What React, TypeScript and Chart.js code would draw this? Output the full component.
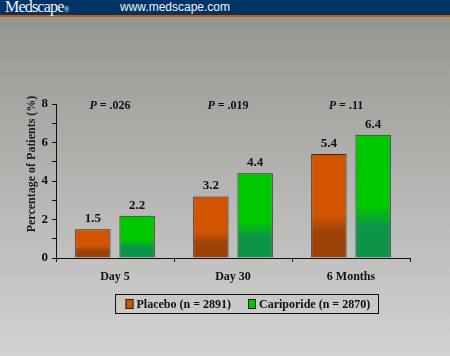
import React, { useEffect, useRef } from "react";
import { Chart, registerables } from "chart.js";

Chart.register(...registerables);

const categories = ["Day 5", "Day 30", "6 Months"];
const placebo = [1.5, 3.2, 5.4];
const cariporide = [2.2, 4.4, 6.4];
const pValues = [".026", ".019", ".11"];
const seriesLabels = ["Placebo (n = 2891)", "Cariporide (n = 2870)"];
const yTicks = [0, 2, 4, 6, 8];
const yTitle = "Percentage of Patients (%)";

const SERIF = '"Liberation Serif", "Times New Roman", serif';
const ORANGE = "#d35400";
const ORANGE_DARK = "#9c4208";
const GREEN = "#00c800";
const GREEN_DARK = "#0c9448";

function barGradient(ctx: any, base: string, dark: string) {
  const chart = ctx.chart;
  const ys = chart.scales && chart.scales.y;
  if (!ys || ctx.raw == null) return base;
  const top = ys.getPixelForValue(ctx.raw);
  const bottom = ys.getPixelForValue(0);
  if (!isFinite(top) || !isFinite(bottom) || bottom - top < 1) return base;
  const g = chart.ctx.createLinearGradient(0, top, 0, bottom);
  g.addColorStop(0, base);
  g.addColorStop(0.58, base);
  g.addColorStop(0.75, dark);
  g.addColorStop(1, dark);
  return g;
}

const annotatePlugin = {
  id: "annotate",
  afterDatasetsDraw(chart: any) {
    const ctx = chart.ctx;
    const xs = chart.scales.x;
    ctx.save();
    // value labels
    ctx.fillStyle = "#111";
    ctx.font = `bold 13px ${SERIF}`;
    ctx.textAlign = "center";
    ctx.textBaseline = "bottom";
    chart.data.datasets.forEach((ds: any, di: number) => {
      const meta = chart.getDatasetMeta(di);
      meta.data.forEach((bar: any, i: number) => {
        ctx.fillText(Number(ds.data[i]).toFixed(1), bar.x, bar.y - 4);
      });
    });
    // P values
    ctx.textBaseline = "middle";
    ctx.textAlign = "left";
    pValues.forEach((p, i) => {
      const cx = xs.getPixelForValue(i) - 5;
      const y = chart.chartArea.top + 1.5;
      ctx.font = `italic bold 12px ${SERIF}`;
      const wP = ctx.measureText("P").width;
      ctx.font = `bold 12px ${SERIF}`;
      const rest = " = " + p;
      const wR = ctx.measureText(rest).width;
      const x = cx - (wP + wR) / 2;
      ctx.font = `italic bold 12px ${SERIF}`;
      ctx.fillText("P", x, y);
      ctx.font = `bold 12px ${SERIF}`;
      ctx.fillText(rest, x + wP, y);
    });
    // y title
    ctx.save();
    ctx.translate(32, 147);
    ctx.rotate(-Math.PI / 2);
    ctx.textAlign = "center";
    ctx.textBaseline = "middle";
    ctx.font = `bold 12px ${SERIF}`;
    ctx.fillStyle = "#1a1a1a";
    ctx.fillText(yTitle, 0, 0);
    ctx.restore();
    // legend
    ctx.font = `bold 12px ${SERIF}`;
    const items = chart.data.datasets.map((ds: any) => ({
      text: ds.label,
      color: ds.legendColor,
      w: ctx.measureText(ds.label).width,
    }));
    const markerW = 8, markerGap = 3, itemGap = 17, padL = 10, padR = 8;
    let total = padL + padR;
    items.forEach((it: any, i: number) => {
      total += markerW + markerGap + it.w + (i > 0 ? itemGap : 0);
    });
    const centerX = 246.5;
    const boxTop = 277;
    const boxH = 19;
    const left = Math.round(centerX - total / 2) + 0.5;
    ctx.strokeStyle = "#111";
    ctx.lineWidth = 1;
    ctx.strokeRect(left, boxTop + 0.5, Math.round(total), boxH);
    let x = left + padL;
    const midY = boxTop + boxH / 2 + 0.5;
    items.forEach((it: any, i: number) => {
      if (i > 0) x += itemGap;
      ctx.fillStyle = it.color;
      ctx.fillRect(x, midY - 5, markerW, 10);
      ctx.strokeStyle = "#222";
      ctx.strokeRect(x + 0.5, midY - 4.5, markerW - 1, 9);
      x += markerW + markerGap;
      ctx.fillStyle = "#111";
      ctx.textAlign = "left";
      ctx.textBaseline = "middle";
      ctx.fillText(it.text, x, midY + 0.5);
      x += it.w;
    });
    ctx.restore();
  },
};

export default function App() {
  const ref = useRef<HTMLCanvasElement>(null);

  useEffect(() => {
    if (!ref.current) return;
    const chart = new Chart(ref.current, {
      type: "bar",
      data: {
        labels: categories,
        datasets: [
          {
            label: seriesLabels[0],
            data: placebo,
            backgroundColor: (c: any) => barGradient(c, ORANGE, ORANGE_DARK),
            borderColor: "#2a2a2a",
            borderWidth: 1,
            categoryPercentage: 0.75,
            barPercentage: 0.8,
            legendColor: ORANGE,
          } as any,
          {
            label: seriesLabels[1],
            data: cariporide,
            backgroundColor: (c: any) => barGradient(c, GREEN, GREEN_DARK),
            borderColor: "#2a2a2a",
            borderWidth: 1,
            categoryPercentage: 0.75,
            barPercentage: 0.8,
            legendColor: GREEN,
          } as any,
        ],
      },
      options: {
        animation: false,
        responsive: true,
        maintainAspectRatio: false,
        layout: { padding: { top: 87, right: 40, left: 0, bottom: 68 } },
        plugins: {
          legend: { display: false },
          tooltip: { enabled: false },
          title: { display: false },
        },
        scales: {
          x: {
            grid: {
              offset: true,
              drawOnChartArea: false,
              drawTicks: true,
              tickLength: 4,
              color: "#111",
            },
            border: { display: true, color: "#111", width: 1 },
            ticks: {
              color: "#111",
              font: { family: SERIF, size: 12, weight: "bold" },
              padding: 8,
            },
            afterFit: (s: any) => {
              s.height = 30;
            },
          },
          y: {
            min: 0,
            max: 8,
            ticks: {
              stepSize: 1,
              autoSkip: false,
              color: "#111",
              font: { family: SERIF, size: 13, weight: "bold" },
              padding: 4,
              callback: (v: any) => (yTicks.includes(Number(v)) ? String(v) : ""),
            },
            grid: {
              drawOnChartArea: false,
              drawTicks: true,
              tickLength: 4,
              color: "#111",
            },
            border: { display: true, color: "#111", width: 1 },
            afterFit: (s: any) => {
              s.width = 56;
            },
          },
        },
      },
      plugins: [annotatePlugin],
    });
    return () => chart.destroy();
  }, []);

  return (
    <div
      style={{
        position: "absolute",
        left: 0,
        top: 0,
        width: 450,
        height: 356,
        overflow: "hidden",
        background: "linear-gradient(to bottom, #979792 0px, #979792 17px, #d2d2d2 356px)",
      }}
    >
      <div
        style={{
          position: "absolute",
          left: 0,
          top: 0,
          width: 450,
          height: 15,
          background: "#003366",
          borderBottom: "2px solid #d05a00",
        }}
      >
        <span
          style={{
            position: "absolute",
            left: 5,
            top: -2,
            fontFamily: SERIF,
            fontSize: 16,
            color: "#f0f3f8",
            letterSpacing: -0.8,
            lineHeight: "18px",
          }}
        >
          Medscape
          <span style={{ fontSize: 8, letterSpacing: 0 }}>®</span>
        </span>
        <span
          style={{
            position: "absolute",
            left: 120,
            top: -1,
            fontFamily: '"Liberation Sans", Arial, sans-serif',
            fontSize: 12,
            color: "#f0f3f8",
            lineHeight: "16px",
          }}
        >
          www.medscape.com
        </span>
      </div>
      <div style={{ position: "absolute", left: 0, top: 17, width: 450, height: 339 }}>
        <canvas ref={ref} />
      </div>
    </div>
  );
}
